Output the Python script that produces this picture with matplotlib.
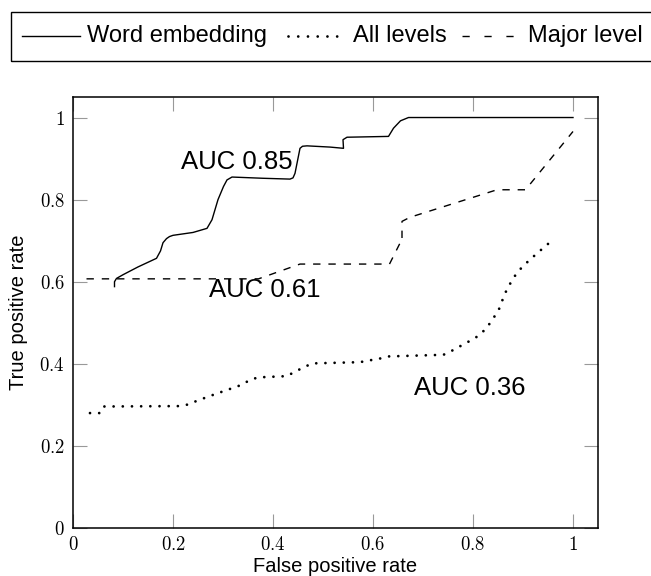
import matplotlib
matplotlib.use("Agg")
import matplotlib.pyplot as plt
from matplotlib.lines import Line2D
from matplotlib.patches import Rectangle
from matplotlib.ticker import FuncFormatter, MultipleLocator

plt.rcParams["font.family"] = ["Liberation Sans", "DejaVu Sans"]
plt.rcParams["mathtext.fontset"] = "cm"
plt.rcParams["lines.scale_dashes"] = False

W, H = 651, 576

# ROC curves (false positive rate, true positive rate)
fpr_word = [0.083, 0.083, 0.087, 0.10, 0.13, 0.167, 0.175, 0.180, 0.187, 0.193, 0.20,
            0.24, 0.268, 0.278, 0.29, 0.301, 0.308, 0.318, 0.38, 0.434, 0.440,
            0.444, 0.454, 0.459, 0.468, 0.514, 0.541, 0.540, 0.548, 0.631, 0.641,
            0.655, 0.671, 1.0]
tpr_word = [0.588, 0.600, 0.608, 0.617, 0.636, 0.657, 0.675, 0.695, 0.705, 0.710, 0.713,
            0.720, 0.730, 0.751, 0.800, 0.832, 0.848, 0.855, 0.852, 0.850, 0.853,
            0.864, 0.925, 0.930, 0.931, 0.928, 0.925, 0.946, 0.952, 0.954, 0.974,
            0.992, 1.0, 1.0]

fpr_all = [0.034, 0.054, 0.061, 0.211, 0.231, 0.248, 0.284, 0.338, 0.354, 0.371,
           0.428, 0.444, 0.461, 0.478, 0.574, 0.591, 0.611, 0.631, 0.741, 0.758,
           0.791, 0.808, 0.824, 0.834, 0.851, 0.861, 0.868, 0.878, 0.888, 0.901,
           0.915, 0.929, 0.945, 0.958]
tpr_all = [0.280, 0.280, 0.296, 0.297, 0.301, 0.310, 0.326, 0.349, 0.361, 0.367,
           0.370, 0.381, 0.391, 0.401, 0.404, 0.408, 0.412, 0.418, 0.422, 0.432,
           0.454, 0.466, 0.483, 0.499, 0.530, 0.562, 0.582, 0.603, 0.622, 0.639,
           0.655, 0.670, 0.687, 0.700]

fpr_major = [0.027, 0.371, 0.454, 0.633, 0.654, 0.658, 0.658, 0.674, 0.848, 0.905, 1.0]
tpr_major = [0.607, 0.607, 0.643, 0.643, 0.694, 0.694, 0.747, 0.757, 0.824, 0.824, 0.966]

series_names = ["Word embedding", "All levels", "Major level"]
auc_labels = ["AUC 0.85", "AUC 0.61", "AUC 0.36"]
auc_pos = [(0.328, 0.892), (0.384, 0.580), (0.794, 0.341)]

solid = dict(color="black", lw=1.0)
dotted = dict(color="black", lw=2.0, dashes=(0.01, 6.6), dash_capstyle="round")
dashed = dict(color="black", lw=1.0, dashes=(5.3, 5.7))

fig = plt.figure(figsize=(W / 100, H / 100), dpi=100)
ax = fig.add_axes([73 / W, 1 - 528 / H, 525 / W, 431 / H])

ax.plot(fpr_word, tpr_word, solid_joinstyle="round", **solid)
ax.plot(fpr_all, tpr_all, **dotted)
ax.plot(fpr_major, tpr_major, **dashed)

for txt, (x, y) in zip(auc_labels, auc_pos):
    ax.text(x, y, txt, fontsize=18.5, ha="center", va="center")

ax.set_xlim(0, 1.05)
ax.set_ylim(0, 1.05)
ax.xaxis.set_major_locator(MultipleLocator(0.2))
ax.yaxis.set_major_locator(MultipleLocator(0.2))
fmt = FuncFormatter(lambda v, p: "$%g$" % round(v, 2))
ax.xaxis.set_major_formatter(fmt)
ax.yaxis.set_major_formatter(fmt)
ax.tick_params(direction="in", length=10, width=0.8, color="#999999",
               top=True, right=True, labelsize=13.5, pad=6)
for s in ax.spines.values():
    s.set_linewidth(1.1)

ax.set_xlabel("False positive rate", fontsize=14.5, labelpad=2)
ax.set_ylabel("True positive rate", fontsize=14.5, labelpad=8)


# legend row across the top, laid out in pixels
def px(x, y):
    return x / W, 1 - y / H


fig.add_artist(Rectangle(px(11, 61), 660 / W, 49 / H, transform=fig.transFigure,
                         fill=False, edgecolor="black", lw=1.0, clip_on=False))
legend_y = 36
sample_spans = [(22, 80), (288, 346), (462, 514)]
sample_styles = [
    solid,
    dict(dotted, dashes=(0.01, 7.0)),
    dict(dashed, dashes=(5.2, 10.6)),
]
text_x = [87, 353, 528]
for (x0, x1), style, tx, name in zip(sample_spans, sample_styles, text_x, series_names):
    (fx0, fy), (fx1, _) = px(x0, legend_y), px(x1, legend_y)
    fig.add_artist(Line2D([fx0, fx1], [fy, fy], transform=fig.transFigure, **style))
    fig.text(*px(tx, legend_y), name, fontsize=17, ha="left", va="center")

fig.savefig("out.png", dpi=100)
